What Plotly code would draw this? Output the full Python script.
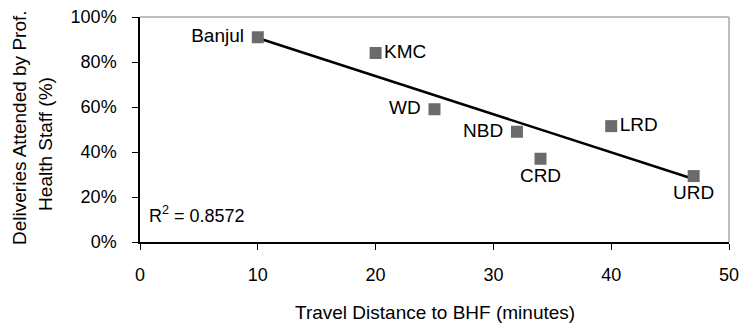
import numpy as np
import plotly.graph_objects as go

# Regions and their values
regions = ["Banjul", "KMC", "WD", "NBD", "CRD", "LRD", "URD"]
travel_minutes = [10, 20, 25, 32, 34, 40, 47]
attended_share = [0.91, 0.84, 0.59, 0.49, 0.37, 0.515, 0.293]
label_positions = ["middle left", "middle right", "middle left", "middle left",
                   "bottom center", "middle right", "bottom center"]
x_ticks = [0, 10, 20, 30, 40, 50]
y_ticks = [0, 0.2, 0.4, 0.6, 0.8, 1.0]

FONT = "Liberation Sans, Arial, sans-serif"
FS_TICK = 18
FS_TEXT = 19

# Linear trend line across the observed range
xs = np.array(travel_minutes, dtype=float)
ys = np.array(attended_share, dtype=float)
slope, intercept = np.polyfit(xs, ys, 1)
fit_x = np.array([xs.min(), xs.max()])
fit_y = slope * fit_x + intercept

# Labels on the left get a trailing space to keep them off the markers
label_text = [r + " " if pos == "middle left" else r
              for r, pos in zip(regions, label_positions)]

fig = go.Figure()
fig.add_trace(go.Scatter(
    x=fit_x, y=fit_y, mode="lines",
    line=dict(color="black", width=2.5), showlegend=False, hoverinfo="skip",
))
fig.add_trace(go.Scatter(
    x=travel_minutes, y=attended_share, mode="markers+text",
    text=label_text, textposition=label_positions,
    textfont=dict(family=FONT, size=FS_TEXT, color="black"),
    marker=dict(symbol="square", size=12, color="#6b6b6b"),
    showlegend=False,
))

fig.add_annotation(
    x=0.012, y=0.124, xref="paper", yref="paper", xanchor="left", yanchor="middle",
    text="R<sup>2</sup> = 0.8572", showarrow=False,
    font=dict(family=FONT, size=FS_TICK, color="black"),
)

# Axis titles
fig.add_annotation(
    x=0.5, y=-0.315, xref="paper", yref="paper", xanchor="center", yanchor="middle",
    text="Travel Distance to BHF (minutes)", showarrow=False,
    font=dict(family=FONT, size=FS_TEXT, color="black"),
)
fig.add_annotation(
    x=-0.2037, y=0.507, xref="paper", yref="paper", xanchor="center", yanchor="middle",
    text="Deliveries Attended by Prof.", textangle=-90, showarrow=False,
    font=dict(family=FONT, size=FS_TEXT, color="black"),
)
fig.add_annotation(
    x=-0.1596, y=0.436, xref="paper", yref="paper", xanchor="center", yanchor="middle",
    text="Health Staff (%)", textangle=-90, showarrow=False,
    font=dict(family=FONT, size=FS_TEXT, color="black"),
)

# Light frame on top and right edges
fig.add_shape(type="line", xref="paper", yref="paper", x0=0, x1=1, y0=1, y1=1,
              line=dict(color="#a8a8a8", width=1.5))
fig.add_shape(type="line", xref="paper", yref="paper", x0=1, x1=1, y0=0, y1=1,
              line=dict(color="#a8a8a8", width=1.5))

fig.update_layout(
    width=739, height=328,
    margin=dict(l=140, r=10, t=17, b=86, autoexpand=False),
    plot_bgcolor="white", paper_bgcolor="white",
    font=dict(family=FONT, size=FS_TICK, color="black"),
    xaxis=dict(
        range=[0, 50], tickvals=x_ticks, showgrid=False, zeroline=False,
        showline=True, linecolor="black", linewidth=1.5, automargin=False,
        ticks="outside", ticklen=6, tickcolor="black", ticklabelstandoff=10,
        ticklabeloverflow="allow",
        tickfont=dict(family=FONT, size=FS_TICK),
    ),
    yaxis=dict(
        range=[0, 1], tickvals=y_ticks, tickformat=".0%", showgrid=False,
        zeroline=False, showline=True, linecolor="black", linewidth=1.5,
        automargin=False,
        ticks="outside", ticklen=6, tickcolor="black", ticklabelstandoff=12,
        tickfont=dict(family=FONT, size=FS_TICK),
    ),
)

fig.write_html("out.html")
